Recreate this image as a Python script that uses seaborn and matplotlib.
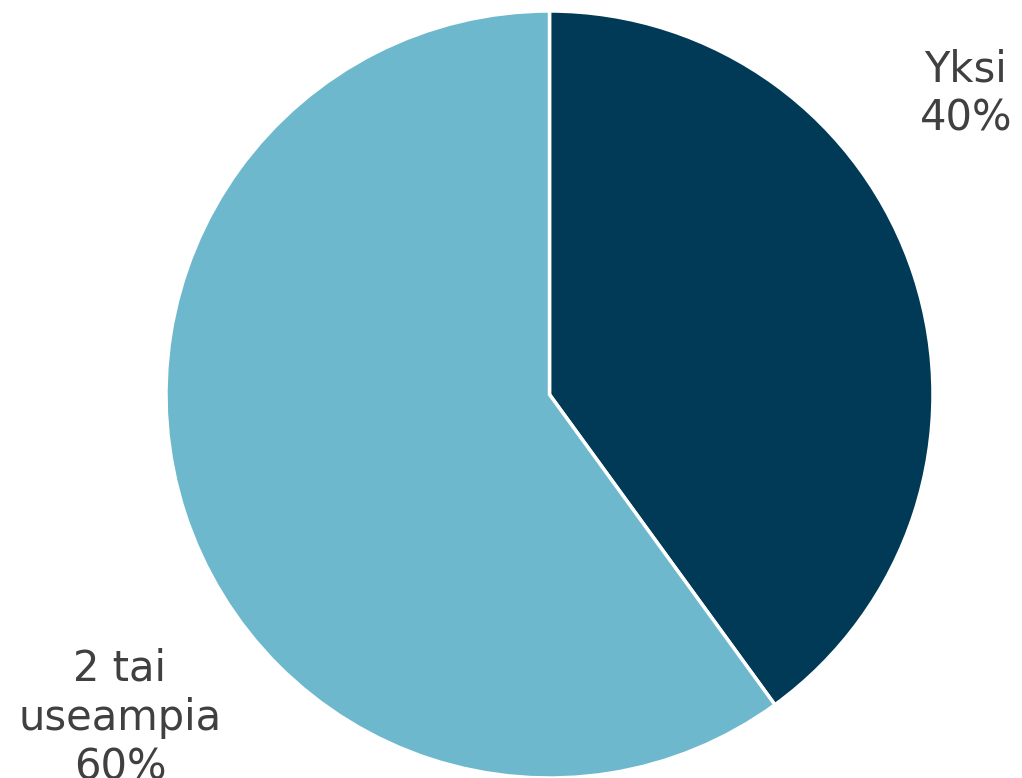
import matplotlib
matplotlib.use("Agg")
import matplotlib.pyplot as plt
import seaborn as sns

# data
categories = ["Yksi", "2 tai\nuseampia"]
shares = [40, 60]
colors = ["#003A56", "#6DB8CC"]

sns.set_theme(style="white")
plt.rcParams["font.family"] = ["DejaVu Sans"]

fig = plt.figure(figsize=(10.22, 7.78), dpi=100)
ax = fig.add_axes([166 / 1022, 0, 767 / 1022, 767 / 778])

ax.pie(shares, colors=colors, startangle=90, counterclock=False,
       wedgeprops={"edgecolor": "white", "linewidth": 2.5})
ax.set_xlim(-1.0, 1.0)
ax.set_ylim(-1.0, 1.0)
ax.set_aspect("equal")

# label positions (data coords relative to pie)
label_pos = [(1.086, 0.783), (-1.12, -0.843)]
for name, val, (x, y) in zip(categories, shares, label_pos):
    ax.text(x, y, f"{name}\n{val}%", ha="center", va="center",
            fontsize=30, color="#404040", linespacing=1.22, clip_on=False)

fig.savefig("out.png", dpi=100)
